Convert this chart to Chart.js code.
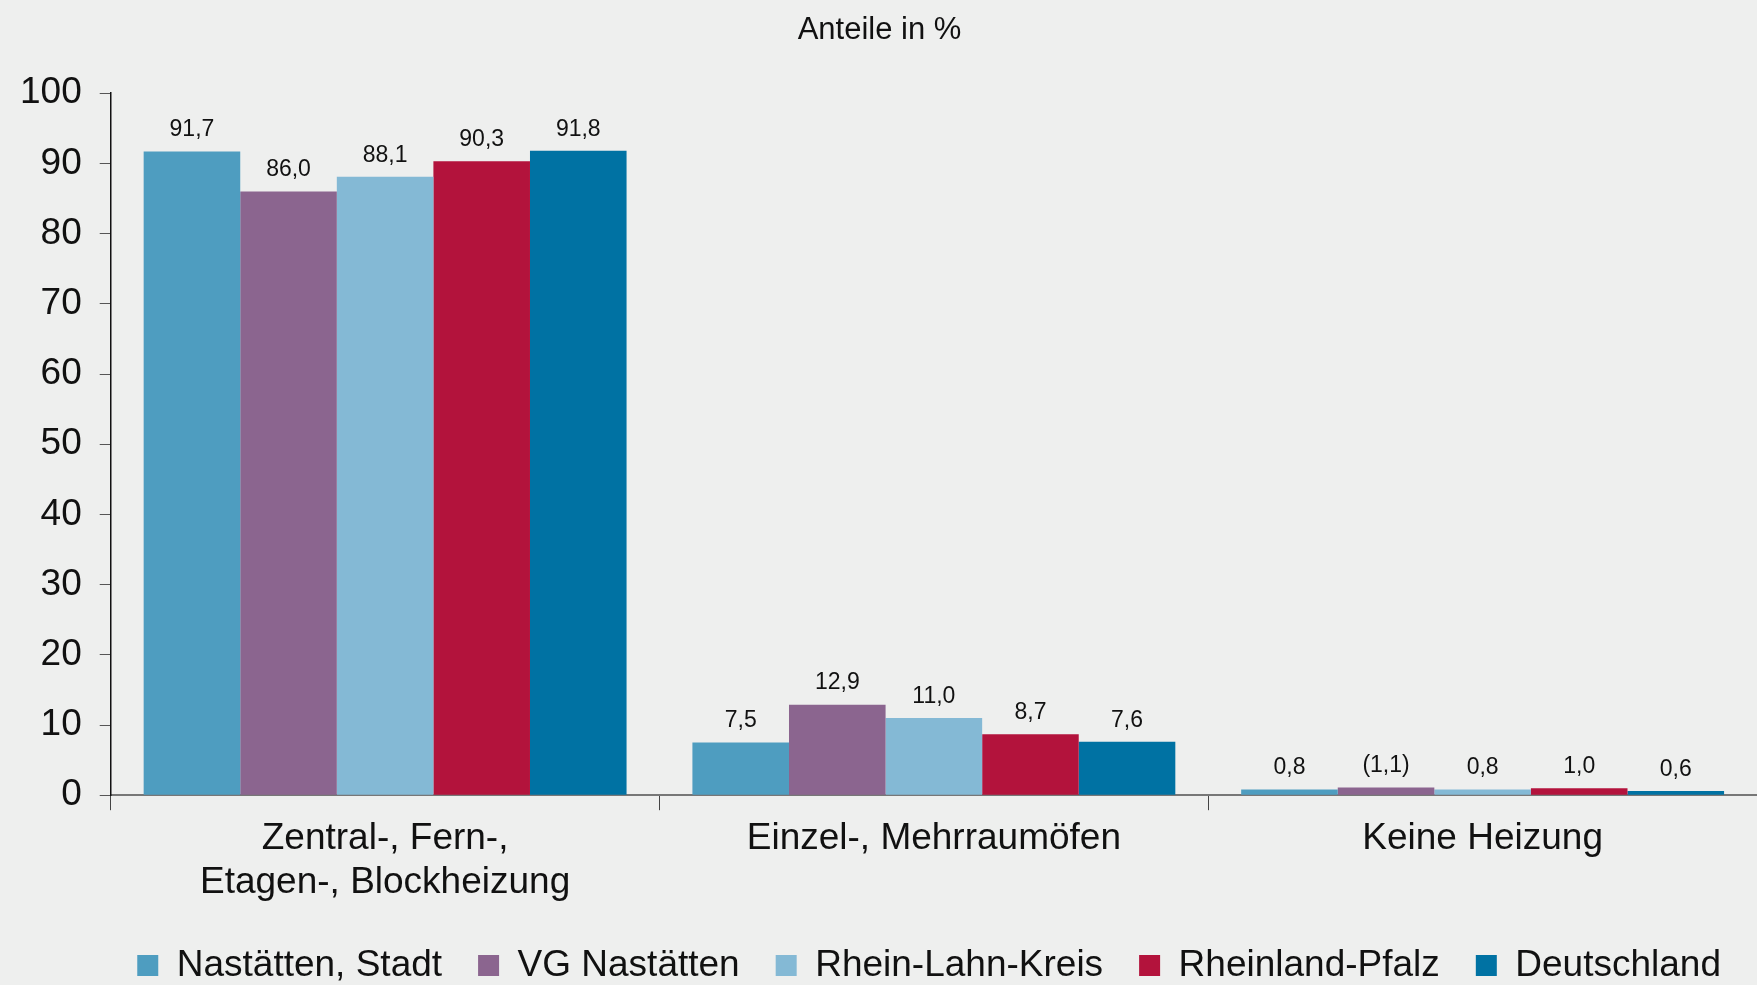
<!DOCTYPE html>
<html>
<head>
<meta charset="utf-8">
<script src="https://cdn.jsdelivr.net/npm/chart.js@4.4.1/dist/chart.umd.min.js"></script>
<style>
  html, body { margin: 0; padding: 0; background: #eeefee; overflow: hidden; }
  #wrap { width: 1757px; height: 985px; position: relative; }
</style>
</head>
<body>
<div id="wrap"><canvas id="canvas_bar"></canvas></div>
<script>
// categories and series
const categories = [['Zentral-, Fern-,', 'Etagen-, Blockheizung'], 'Einzel-, Mehrraumöfen', 'Keine Heizung'];
const series_names = ['Nastätten, Stadt', 'VG Nastätten', 'Rhein-Lahn-Kreis', 'Rheinland-Pfalz', 'Deutschland'];
const nastaetten_stadt = [91.7, 7.5, 0.8];
const vg_nastaetten = [86.0, 12.9, 1.1];
const rhein_lahn = [88.1, 11.0, 0.8];
const rheinland_pfalz = [90.3, 8.7, 1.0];
const deutschland = [91.8, 7.6, 0.6];
// printed labels (VG value for "Keine Heizung" is shown in brackets)
const label_text = [
  ['91,7', '7,5', '0,8'],
  ['86,0', '12,9', '(1,1)'],
  ['88,1', '11,0', '0,8'],
  ['90,3', '8,7', '1,0'],
  ['91,8', '7,6', '0,6']
];
const y_ticks = [0, 10, 20, 30, 40, 50, 60, 70, 80, 90, 100];
const colors = ['#4e9dc0', '#8b658f', '#84b9d5', '#b3133c', '#0072a3'];

const all_values = [nastaetten_stadt, vg_nastaetten, rhein_lahn, rheinland_pfalz, deutschland];
const font_family = '"Liberation Sans", Arial, sans-serif';

const data_bar = {
  labels: categories,
  datasets: all_values.map((vals, i) => ({
    label: series_names[i],
    data: vals,
    backgroundColor: colors[i],
    borderWidth: 0,
    categoryPercentage: 0.88,
    barPercentage: 1.0
  }))
};

// value labels above bars
const valueLabels = {
  id: 'valueLabels',
  afterDatasetsDraw(chart) {
    const ctx = chart.ctx;
    ctx.save();
    ctx.font = '23px ' + font_family;
    ctx.fillStyle = '#111';
    ctx.textAlign = 'center';
    ctx.textBaseline = 'bottom';
    chart.data.datasets.forEach((ds, i) => {
      chart.getDatasetMeta(i).data.forEach((bar, j) => {
        ctx.fillText(label_text[i][j], bar.x, bar.y - 10);
      });
    });
    ctx.restore();
  }
};

const config_bar = {
  type: 'bar',
  data: data_bar,
  options: {
    responsive: true,
    maintainAspectRatio: false,
    animation: false,
    layout: { padding: { left: 2, right: 0, top: 12, bottom: -9 } },
    plugins: {
      title: {
        display: true,
        text: 'Anteile in %',
        color: '#111',
        font: { family: font_family, size: 31, weight: 'normal' },
        padding: { top: 0, bottom: 44 }
      },
      legend: {
        position: 'bottom',
        align: 'end',
        labels: {
          color: '#111',
          font: { family: font_family, size: 37 },
          boxWidth: 21,
          boxHeight: 21,
          padding: 36
        }
      },
      tooltip: { enabled: false }
    },
    scales: {
      x: {
        grid: {
          offset: true,
          drawOnChartArea: false,
          drawTicks: true,
          tickLength: 15,
          color: '#444'
        },
        border: { color: '#777', width: 2 },
        ticks: {
          color: '#111',
          padding: 6,
          font: { family: font_family, size: 37, lineHeight: 1.2 },
          maxRotation: 0
        }
      },
      y: {
        min: 0,
        max: 100,
        afterBuildTicks(scale) {
          scale.ticks = y_ticks.map(v => ({ value: v }));
        },
        grid: {
          drawOnChartArea: false,
          drawTicks: true,
          tickLength: 11,
          color: '#555'
        },
        border: { color: '#111', width: 1.5 },
        ticks: {
          color: '#111',
          padding: 18,
          font: { family: font_family, size: 37 }
        }
      }
    }
  },
  plugins: [valueLabels]
};

const canvas_bar = document.getElementById('canvas_bar');
const chart_bar = new Chart(canvas_bar, config_bar);
</script>
</body>
</html>
